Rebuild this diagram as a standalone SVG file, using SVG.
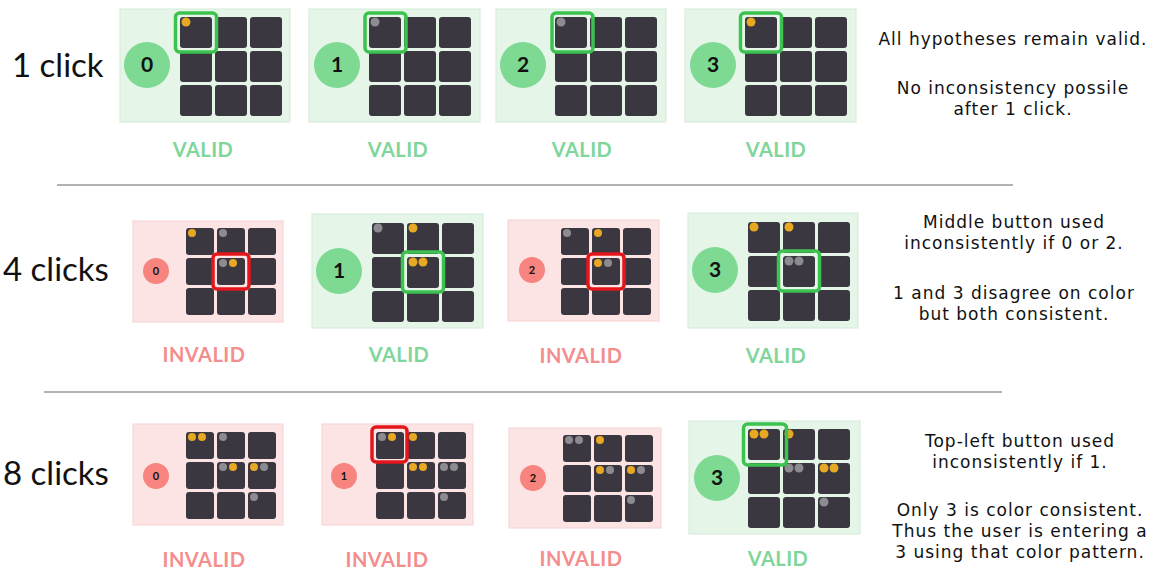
<svg xmlns="http://www.w3.org/2000/svg" xmlns:xlink="http://www.w3.org/1999/xlink" width="1154" height="573" viewBox="0 0 1154 573">
<style>
.bg{fill:#ffffff}
.pv{fill:#e5f6e8;stroke:#d3ebd7;stroke-width:1}
.pi{fill:#fde4e4;stroke:#f5d2d2;stroke-width:1}
.cell{fill:#3b3741}
.cg{fill:#7ed993}
.cr{fill:#f7847e}
.nb{font-family:Lato,"Open Sans",sans-serif;font-weight:700;fill:#111;text-anchor:middle}
.nl{font-size:21px}
.ns{font-size:11px}
.or{fill:#e7a823}
.gr{fill:#8c8b90}
.hg{fill:none;stroke:#3cc24f;stroke-width:3.5}
.hr{fill:none;stroke:#e4161c;stroke-width:3.5}
.lv{font-family:Lato,"Open Sans",sans-serif;font-weight:700;font-size:20px;fill:#7fd69b;text-anchor:middle;letter-spacing:0.5px}
.li{font-family:Lato,"Open Sans",sans-serif;font-weight:700;font-size:20px;fill:#f48d8d;text-anchor:middle;letter-spacing:0.5px}
.row{font-family:Lato,"Open Sans",sans-serif;font-size:33px;fill:#111}
.note{font-family:"DejaVu Sans",sans-serif;font-size:17px;fill:#111;text-anchor:middle;letter-spacing:1px}
.div{stroke:#9a9a9a;stroke-width:1.5}
</style>
<defs>
<g id="gridL">
<rect class="cell" x="0" y="0" width="32" height="31" rx="3"/>
<rect class="cell" x="35" y="0" width="32" height="31" rx="3"/>
<rect class="cell" x="70" y="0" width="32" height="31" rx="3"/>
<rect class="cell" x="0" y="34" width="32" height="31" rx="3"/>
<rect class="cell" x="35" y="34" width="32" height="31" rx="3"/>
<rect class="cell" x="70" y="34" width="32" height="31" rx="3"/>
<rect class="cell" x="0" y="68" width="32" height="31" rx="3"/>
<rect class="cell" x="35" y="68" width="32" height="31" rx="3"/>
<rect class="cell" x="70" y="68" width="32" height="31" rx="3"/>
</g>
<g id="gridS">
<rect class="cell" x="0" y="0" width="28" height="27" rx="3"/>
<rect class="cell" x="31" y="0" width="28" height="27" rx="3"/>
<rect class="cell" x="62" y="0" width="28" height="27" rx="3"/>
<rect class="cell" x="0" y="30" width="28" height="27" rx="3"/>
<rect class="cell" x="31" y="30" width="28" height="27" rx="3"/>
<rect class="cell" x="62" y="30" width="28" height="27" rx="3"/>
<rect class="cell" x="0" y="60" width="28" height="27" rx="3"/>
<rect class="cell" x="31" y="60" width="28" height="27" rx="3"/>
<rect class="cell" x="62" y="60" width="28" height="27" rx="3"/>
</g>
</defs>
<rect class="bg" x="0" y="0" width="1154" height="573"/>

<g id="row-labels">
<text class="row" x="12" y="77">1 click</text>
<text class="row" x="3" y="281">4 clicks</text>
<text class="row" x="3" y="485">8 clicks</text>
</g>

<g id="connectors">
<line class="div" x1="57" y1="185" x2="1013" y2="185"/>
<line class="div" x1="44" y1="392" x2="1002" y2="392"/>
</g>

<!-- Row 1 -->
<g id="r1p0">
<rect class="pv" x="120" y="9" width="170" height="113"/>
<circle class="cg" cx="147" cy="65" r="23"/>
<text class="nb nl" x="147" y="72">0</text>
<use xlink:href="#gridL" x="180" y="17"/>
<circle class="or" cx="186" cy="22" r="4.5"/>
<rect class="hg" x="175.5" y="13" width="41" height="39" rx="4"/>
<text class="lv" x="203" y="157">VALID</text>
</g>
<g id="r1p1">
<rect class="pv" x="309" y="9" width="171" height="113"/>
<circle class="cg" cx="337" cy="65" r="23"/>
<text class="nb nl" x="337" y="72">1</text>
<use xlink:href="#gridL" x="369" y="17"/>
<circle class="gr" cx="375" cy="22" r="4.5"/>
<rect class="hg" x="365" y="13" width="41" height="39" rx="4"/>
<text class="lv" x="398" y="157">VALID</text>
</g>
<g id="r1p2">
<rect class="pv" x="496" y="9" width="170" height="113"/>
<circle class="cg" cx="523" cy="65" r="23"/>
<text class="nb nl" x="523" y="72">2</text>
<use xlink:href="#gridL" x="555" y="17"/>
<circle class="gr" cx="561" cy="22" r="4.5"/>
<rect class="hg" x="552" y="13" width="41" height="39" rx="4"/>
<text class="lv" x="582" y="157">VALID</text>
</g>
<g id="r1p3">
<rect class="pv" x="685" y="9" width="171" height="113"/>
<circle class="cg" cx="713" cy="65" r="23"/>
<text class="nb nl" x="713" y="72">3</text>
<use xlink:href="#gridL" x="745" y="17"/>
<circle class="or" cx="751" cy="22" r="4.5"/>
<rect class="hg" x="740.5" y="13" width="41" height="39" rx="4"/>
<text class="lv" x="776" y="157">VALID</text>
</g>

<!-- Row 2 -->
<g id="r2p0">
<rect class="pi" x="133" y="221" width="150" height="101"/>
<circle class="cr" cx="156" cy="271" r="13"/>
<text class="nb ns" x="156" y="275">0</text>
<use xlink:href="#gridS" x="186" y="228"/>
<circle class="or" cx="192" cy="233" r="4"/>
<circle class="gr" cx="223" cy="233" r="4"/>
<circle class="gr" cx="223" cy="263" r="4"/>
<circle class="or" cx="233" cy="263" r="4"/>
<rect class="hr" x="213" y="254" width="36" height="35" rx="4"/>
<text class="li" x="204" y="362">INVALID</text>
</g>
<g id="r2p1">
<rect class="pv" x="312" y="214" width="171" height="114"/>
<circle class="cg" cx="339" cy="271" r="23"/>
<text class="nb nl" x="339" y="278">1</text>
<use xlink:href="#gridL" x="372" y="223"/>
<circle class="gr" cx="378" cy="228" r="4.5"/>
<circle class="or" cx="413" cy="228" r="4.5"/>
<circle class="or" cx="413" cy="262" r="4.5"/>
<circle class="or" cx="423" cy="262" r="4.5"/>
<rect class="hg" x="402.5" y="252" width="41" height="40" rx="4"/>
<text class="lv" x="399" y="362">VALID</text>
</g>
<g id="r2p2">
<rect class="pi" x="508" y="220" width="151" height="101"/>
<circle class="cr" cx="532" cy="270" r="13"/>
<text class="nb ns" x="532" y="274">2</text>
<use xlink:href="#gridS" x="561" y="228"/>
<circle class="gr" cx="567" cy="233" r="4"/>
<circle class="or" cx="598" cy="233" r="4"/>
<circle class="or" cx="598" cy="263" r="4"/>
<circle class="gr" cx="608" cy="263" r="4"/>
<rect class="hr" x="588" y="254" width="36" height="35" rx="4"/>
<text class="li" x="581" y="363">INVALID</text>
</g>
<g id="r2p3">
<rect class="pv" x="688" y="213" width="170" height="115"/>
<circle class="cg" cx="715" cy="270" r="23"/>
<text class="nb nl" x="715" y="277">3</text>
<use xlink:href="#gridL" x="748" y="222"/>
<circle class="or" cx="754" cy="227" r="4.5"/>
<circle class="or" cx="789" cy="227" r="4.5"/>
<circle class="gr" cx="789" cy="261" r="4.5"/>
<circle class="gr" cx="799" cy="261" r="4.5"/>
<rect class="hg" x="778.5" y="251" width="41" height="40" rx="4"/>
<text class="lv" x="776" y="363">VALID</text>
</g>

<!-- Row 3 -->
<g id="r3p0">
<rect class="pi" x="133" y="424" width="150" height="101"/>
<circle class="cr" cx="156" cy="476" r="13"/>
<text class="nb ns" x="156" y="480">0</text>
<use xlink:href="#gridS" x="186" y="432"/>
<circle class="or" cx="192" cy="437" r="4"/>
<circle class="or" cx="202" cy="437" r="4"/>
<circle class="gr" cx="223" cy="437" r="4"/>
<circle class="gr" cx="223" cy="467" r="4"/>
<circle class="or" cx="233" cy="467" r="4"/>
<circle class="or" cx="254" cy="467" r="4"/>
<circle class="gr" cx="264" cy="467" r="4"/>
<circle class="gr" cx="254" cy="497" r="4"/>
<text class="li" x="204" y="567">INVALID</text>
</g>
<g id="r3p1">
<rect class="pi" x="322" y="424" width="151" height="101"/>
<circle class="cr" cx="344" cy="476" r="13"/>
<text class="nb ns" x="344" y="480">1</text>
<use xlink:href="#gridS" x="376" y="432"/>
<circle class="gr" cx="382" cy="437" r="4"/>
<circle class="or" cx="392" cy="437" r="4"/>
<circle class="or" cx="413" cy="437" r="4"/>
<circle class="or" cx="413" cy="467" r="4"/>
<circle class="or" cx="423" cy="467" r="4"/>
<circle class="gr" cx="444" cy="467" r="4"/>
<circle class="gr" cx="454" cy="467" r="4"/>
<circle class="gr" cx="444" cy="497" r="4"/>
<rect class="hr" x="372" y="427" width="35" height="35" rx="4"/>
<text class="li" x="387" y="567">INVALID</text>
</g>
<g id="r3p2">
<rect class="pi" x="509" y="428" width="152" height="100"/>
<circle class="cr" cx="533" cy="478" r="13"/>
<text class="nb ns" x="533" y="482">2</text>
<use xlink:href="#gridS" x="563" y="435"/>
<circle class="gr" cx="569" cy="440" r="4"/>
<circle class="gr" cx="579" cy="440" r="4"/>
<circle class="or" cx="600" cy="440" r="4"/>
<circle class="or" cx="600" cy="470" r="4"/>
<circle class="gr" cx="610" cy="470" r="4"/>
<circle class="or" cx="631" cy="470" r="4"/>
<circle class="gr" cx="641" cy="470" r="4"/>
<circle class="gr" cx="631" cy="500" r="4"/>
<text class="li" x="581" y="566">INVALID</text>
</g>
<g id="r3p3">
<rect class="pv" x="689" y="421" width="171" height="113"/>
<circle class="cg" cx="717" cy="478" r="23"/>
<text class="nb nl" x="717" y="485">3</text>
<use xlink:href="#gridL" x="748" y="429"/>
<circle class="or" cx="754" cy="434" r="4.5"/>
<circle class="or" cx="764" cy="434" r="4.5"/>
<circle class="or" cx="789" cy="434" r="4.5"/>
<circle class="gr" cx="789" cy="468" r="4.5"/>
<circle class="gr" cx="799" cy="468" r="4.5"/>
<circle class="or" cx="824" cy="468" r="4.5"/>
<circle class="or" cx="834" cy="468" r="4.5"/>
<circle class="gr" cx="824" cy="502" r="4.5"/>
<rect class="hg" x="743.5" y="424" width="43" height="41" rx="4"/>
<text class="lv" x="778" y="566">VALID</text>
</g>

<g id="notes">
<text class="note" x="1013" y="45">All hypotheses remain valid.</text>
<text class="note"><tspan x="1013" y="94">No inconsistency possile</tspan><tspan x="1013" y="115">after 1 click.</tspan></text>
<text class="note"><tspan x="1014" y="228">Middle button used</tspan><tspan x="1014" y="249">inconsistently if 0 or 2.</tspan></text>
<text class="note"><tspan x="1014" y="299">1 and 3 disagree on color</tspan><tspan x="1014" y="320">but both consistent.</tspan></text>
<text class="note"><tspan x="1020" y="447">Top-left button used</tspan><tspan x="1020" y="468">inconsistently if 1.</tspan></text>
<text class="note"><tspan x="1020" y="516">Only 3 is color consistent.</tspan><tspan x="1020" y="537">Thus the user is entering a</tspan><tspan x="1020" y="558">3 using that color pattern.</tspan></text>
</g>
</svg>
